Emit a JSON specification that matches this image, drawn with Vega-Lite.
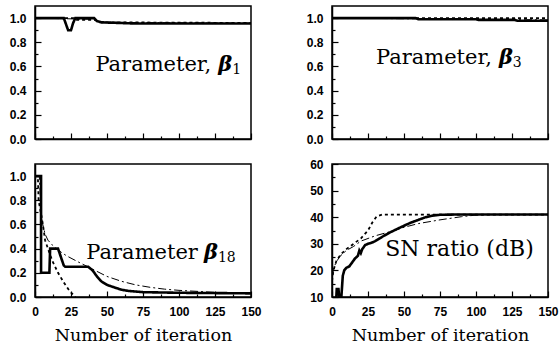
{
  "$schema": "https://vega.github.io/schema/vega-lite/v6.json",
  "padding": {"left": 8, "top": 5, "right": 5, "bottom": 0},
  "background": "white",
  "columns": 2,
  "bounds": "flush",
  "spacing": {"row": 25, "column": 81},
  "config": {
    "view": {"stroke": "black", "strokeWidth": 1.5},
    "axis": {
      "domainColor": "black", "domainWidth": 1.5, "tickColor": "black", "tickWidth": 1.2,
      "labelFont": "Liberation Sans", "labelFontWeight": "bold", "labelFontSize": 12, "labelColor": "black",
      "grid": false, "labelPadding": 15, "labelOverlap": false, "labelFlush": false,
      "titleFont": "DejaVu Serif", "titleFontWeight": "normal", "titleFontSize": 17.5, "titleColor": "black", "titlePadding": 9
    },
    "text": {"font": "DejaVu Serif", "fontSize": 21, "color": "black"}
  },
  "concat": [
    {
      "width": 216, "height": 133,
      "resolve": {"axis": {"x": "independent", "y": "independent"}},
      "layer": [
        {
          "data": {"values": [
            {"s": "a", "x": 0, "y": 1.0}, {"s": "a", "x": 20, "y": 1.0}, {"s": "a", "x": 21.5, "y": 0.95}, {"s": "a", "x": 23, "y": 0.9}, {"s": "a", "x": 25, "y": 0.9}, {"s": "a", "x": 26.5, "y": 0.96}, {"s": "a", "x": 28, "y": 1.0}, {"s": "a", "x": 41, "y": 1.0}, {"s": "a", "x": 43, "y": 0.975}, {"s": "a", "x": 46, "y": 0.965}, {"s": "a", "x": 70, "y": 0.955}, {"s": "a", "x": 150, "y": 0.955},
            {"s": "b", "x": 0, "y": 1.0}, {"s": "b", "x": 27, "y": 1.0}, {"s": "b", "x": 28, "y": 0.985}, {"s": "b", "x": 42, "y": 0.985}, {"s": "b", "x": 45, "y": 0.965}, {"s": "b", "x": 150, "y": 0.96},
            {"s": "c", "x": 0, "y": 1.0}, {"s": "c", "x": 40, "y": 0.99}, {"s": "c", "x": 46, "y": 0.965}, {"s": "c", "x": 150, "y": 0.958}
          ]},
          "mark": {"type": "line", "color": "black", "clip": true},
          "encoding": {
            "x": {"field": "x", "type": "quantitative", "scale": {"domain": [0, 150], "nice": false, "zero": false},
              "axis": {"orient": "bottom", "values": [0, 25, 50, 75, 100, 125, 150], "labels": false, "title": null, "tickSize": -6}},
            "y": {"field": "y", "type": "quantitative", "scale": {"domain": [0, 1.1], "nice": false},
              "axis": {"orient": "left", "values": [0, 0.2, 0.4, 0.6, 0.8, 1.0], "format": ".1f", "title": null, "tickSize": -6}},
            "strokeDash": {"field": "s", "type": "nominal", "scale": {"domain": ["a", "b", "c"], "range": [[1, 0], [3, 3], [8, 3, 2, 3]]}, "legend": null},
            "strokeWidth": {"field": "s", "type": "nominal", "scale": {"domain": ["a", "b", "c"], "range": [2.6, 1, 1]}, "legend": null},
            "order": {"value": null}
          }
        },
        {"data": {"values": [{}]}, "mark": {"type": "text", "text": "Parameter,", "align": "right", "baseline": "alphabetic", "dx": -21},
          "encoding": {
            "x": {"datum": 137, "axis": {"orient": "bottom", "values": [12.5, 37.5, 62.5, 87.5, 112.5, 137.5], "labels": false, "title": null, "tickSize": -3, "domain": false}},
            "y": {"datum": 0.56, "axis": {"orient": "left", "values": [0.1, 0.3, 0.5, 0.7, 0.9], "labels": false, "title": null, "tickSize": -3, "domain": false}}}},
        {"data": {"values": [{}]}, "mark": {"type": "text", "text": "β", "align": "right", "baseline": "alphabetic", "fontStyle": "italic", "fontWeight": "bold"}, "encoding": {"x": {"datum": 137, "axis": null}, "y": {"datum": 0.56, "axis": null}}},
        {"data": {"values": [{}]}, "mark": {"type": "text", "text": "1", "align": "left", "baseline": "alphabetic", "fontSize": 14, "dy": 3}, "encoding": {"x": {"datum": 137, "axis": null}, "y": {"datum": 0.56, "axis": null}}}
      ]
    },
    {
      "width": 216, "height": 133,
      "resolve": {"axis": {"x": "independent", "y": "independent"}},
      "layer": [
        {
          "data": {"values": [
            {"s": "a", "x": 0, "y": 1.0}, {"s": "a", "x": 58, "y": 1.0}, {"s": "a", "x": 60, "y": 0.99}, {"s": "a", "x": 100, "y": 0.99}, {"s": "a", "x": 102, "y": 0.985}, {"s": "a", "x": 127, "y": 0.985}, {"s": "a", "x": 129, "y": 0.978}, {"s": "a", "x": 150, "y": 0.978},
            {"s": "b", "x": 0, "y": 1.0}, {"s": "b", "x": 150, "y": 1.0},
            {"s": "c", "x": 0, "y": 1.0}, {"s": "c", "x": 150, "y": 0.985}
          ]},
          "mark": {"type": "line", "color": "black", "clip": true},
          "encoding": {
            "x": {"field": "x", "type": "quantitative", "scale": {"domain": [0, 150], "nice": false, "zero": false},
              "axis": {"orient": "bottom", "values": [0, 25, 50, 75, 100, 125, 150], "labels": false, "title": null, "tickSize": -6}},
            "y": {"field": "y", "type": "quantitative", "scale": {"domain": [0, 1.1], "nice": false},
              "axis": {"orient": "left", "values": [0, 0.2, 0.4, 0.6, 0.8, 1.0], "format": ".1f", "title": null, "tickSize": -6}},
            "strokeDash": {"field": "s", "type": "nominal", "scale": {"domain": ["a", "b", "c"], "range": [[1, 0], [3, 3], [8, 3, 2, 3]]}, "legend": null},
            "strokeWidth": {"field": "s", "type": "nominal", "scale": {"domain": ["a", "b", "c"], "range": [2.6, 1, 1]}, "legend": null},
            "order": {"value": null}
          }
        },
        {"data": {"values": [{}]}, "mark": {"type": "text", "text": "Parameter,", "align": "right", "baseline": "alphabetic", "dx": -21},
          "encoding": {
            "x": {"datum": 125.6, "axis": {"orient": "bottom", "values": [12.5, 37.5, 62.5, 87.5, 112.5, 137.5], "labels": false, "title": null, "tickSize": -3, "domain": false}},
            "y": {"datum": 0.62, "axis": {"orient": "left", "values": [0.1, 0.3, 0.5, 0.7, 0.9], "labels": false, "title": null, "tickSize": -3, "domain": false}}}},
        {"data": {"values": [{}]}, "mark": {"type": "text", "text": "β", "align": "right", "baseline": "alphabetic", "fontStyle": "italic", "fontWeight": "bold"}, "encoding": {"x": {"datum": 125.6, "axis": null}, "y": {"datum": 0.62, "axis": null}}},
        {"data": {"values": [{}]}, "mark": {"type": "text", "text": "3", "align": "left", "baseline": "alphabetic", "fontSize": 14, "dy": 3}, "encoding": {"x": {"datum": 125.6, "axis": null}, "y": {"datum": 0.62, "axis": null}}}
      ]
    },
    {
      "width": 216, "height": 133,
      "resolve": {"axis": {"x": "independent", "y": "independent"}},
      "layer": [
        {
          "data": {"values": [
            {"s": "a", "x": 0, "y": 1.0}, {"s": "a", "x": 4.2, "y": 1.0}, {"s": "a", "x": 4.2, "y": 0.2}, {"s": "a", "x": 10, "y": 0.2}, {"s": "a", "x": 10.5, "y": 0.4}, {"s": "a", "x": 16, "y": 0.4}, {"s": "a", "x": 18, "y": 0.33}, {"s": "a", "x": 20, "y": 0.26}, {"s": "a", "x": 21, "y": 0.25}, {"s": "a", "x": 37, "y": 0.25}, {"s": "a", "x": 40, "y": 0.22}, {"s": "a", "x": 43, "y": 0.17}, {"s": "a", "x": 46, "y": 0.13}, {"s": "a", "x": 50, "y": 0.1}, {"s": "a", "x": 55, "y": 0.08}, {"s": "a", "x": 60, "y": 0.06}, {"s": "a", "x": 65, "y": 0.05}, {"s": "a", "x": 75, "y": 0.04}, {"s": "a", "x": 100, "y": 0.035}, {"s": "a", "x": 150, "y": 0.03},
            {"s": "b", "x": 0, "y": 1.0}, {"s": "b", "x": 2, "y": 1.0}, {"s": "b", "x": 2.5, "y": 0.8}, {"s": "b", "x": 4, "y": 0.7}, {"s": "b", "x": 5.5, "y": 0.6}, {"s": "b", "x": 7, "y": 0.47}, {"s": "b", "x": 9, "y": 0.4}, {"s": "b", "x": 12, "y": 0.3}, {"s": "b", "x": 16, "y": 0.2}, {"s": "b", "x": 20, "y": 0.12}, {"s": "b", "x": 24, "y": 0.05}, {"s": "b", "x": 28, "y": 0.0},
            {"s": "c", "x": 0, "y": 1.0}, {"s": "c", "x": 3, "y": 1.0}, {"s": "c", "x": 4, "y": 0.75}, {"s": "c", "x": 5, "y": 0.62}, {"s": "c", "x": 7, "y": 0.52}, {"s": "c", "x": 9, "y": 0.47}, {"s": "c", "x": 12, "y": 0.43}, {"s": "c", "x": 17, "y": 0.38}, {"s": "c", "x": 22, "y": 0.34}, {"s": "c", "x": 30, "y": 0.29}, {"s": "c", "x": 40, "y": 0.23}, {"s": "c", "x": 50, "y": 0.17}, {"s": "c", "x": 60, "y": 0.13}, {"s": "c", "x": 70, "y": 0.1}, {"s": "c", "x": 80, "y": 0.08}, {"s": "c", "x": 90, "y": 0.065}, {"s": "c", "x": 100, "y": 0.055}, {"s": "c", "x": 115, "y": 0.045}, {"s": "c", "x": 130, "y": 0.035}, {"s": "c", "x": 150, "y": 0.03}
          ]},
          "mark": {"type": "line", "color": "black", "clip": true},
          "encoding": {
            "x": {"field": "x", "type": "quantitative", "scale": {"domain": [0, 150], "nice": false, "zero": false},
              "axis": {"orient": "bottom", "values": [0, 25, 50, 75, 100, 125, 150], "format": "d", "title": "Number of iteration", "tickSize": -6}},
            "y": {"field": "y", "type": "quantitative", "scale": {"domain": [0, 1.1], "nice": false},
              "axis": {"orient": "left", "values": [0, 0.2, 0.4, 0.6, 0.8, 1.0], "format": ".1f", "title": null, "tickSize": -6}},
            "strokeDash": {"field": "s", "type": "nominal", "scale": {"domain": ["a", "b", "c"], "range": [[1, 0], [3, 3], [8, 3, 2, 3]]}, "legend": null},
            "strokeWidth": {"field": "s", "type": "nominal", "scale": {"domain": ["a", "b", "c"], "range": [2.6, 1, 1]}, "legend": null},
            "order": {"value": null}
          }
        },
        {"data": {"values": [{}]}, "mark": {"type": "text", "text": "Parameter", "align": "right", "baseline": "alphabetic", "dx": -20},
          "encoding": {
            "x": {"datum": 127, "axis": {"orient": "bottom", "values": [12.5, 37.5, 62.5, 87.5, 112.5, 137.5], "labels": false, "title": null, "tickSize": -3, "domain": false}},
            "y": {"datum": 0.317, "axis": {"orient": "left", "values": [0.1, 0.3, 0.5, 0.7, 0.9], "labels": false, "title": null, "tickSize": -3, "domain": false}}}},
        {"data": {"values": [{}]}, "mark": {"type": "text", "text": "β", "align": "right", "baseline": "alphabetic", "fontStyle": "italic", "fontWeight": "bold"}, "encoding": {"x": {"datum": 127, "axis": null}, "y": {"datum": 0.317, "axis": null}}},
        {"data": {"values": [{}]}, "mark": {"type": "text", "text": "18", "align": "left", "baseline": "alphabetic", "fontSize": 14, "dy": 3}, "encoding": {"x": {"datum": 127, "axis": null}, "y": {"datum": 0.317, "axis": null}}}
      ]
    },
    {
      "width": 216, "height": 133,
      "resolve": {"axis": {"x": "independent", "y": "independent"}},
      "layer": [
        {
          "data": {"values": [
            {"s": "a", "x": 3, "y": 10}, {"s": "a", "x": 3.3, "y": 13}, {"s": "a", "x": 4.5, "y": 13}, {"s": "a", "x": 5, "y": 10}, {"s": "a", "x": 6.5, "y": 10}, {"s": "a", "x": 7, "y": 14}, {"s": "a", "x": 7.5, "y": 18}, {"s": "a", "x": 8.5, "y": 20}, {"s": "a", "x": 10, "y": 21}, {"s": "a", "x": 12, "y": 21.5}, {"s": "a", "x": 14, "y": 23}, {"s": "a", "x": 16, "y": 24.5}, {"s": "a", "x": 18, "y": 25.5}, {"s": "a", "x": 19, "y": 27.5}, {"s": "a", "x": 20, "y": 26.5}, {"s": "a", "x": 21, "y": 28}, {"s": "a", "x": 23, "y": 29.5}, {"s": "a", "x": 25, "y": 30}, {"s": "a", "x": 28, "y": 30.5}, {"s": "a", "x": 30, "y": 31}, {"s": "a", "x": 33, "y": 32}, {"s": "a", "x": 36, "y": 33}, {"s": "a", "x": 40, "y": 34.2}, {"s": "a", "x": 45, "y": 35.5}, {"s": "a", "x": 50, "y": 36.8}, {"s": "a", "x": 55, "y": 38}, {"s": "a", "x": 60, "y": 39}, {"s": "a", "x": 65, "y": 40}, {"s": "a", "x": 70, "y": 40.6}, {"s": "a", "x": 75, "y": 40.9}, {"s": "a", "x": 85, "y": 41}, {"s": "a", "x": 150, "y": 41},
            {"s": "b", "x": 0, "y": 16}, {"s": "b", "x": 1, "y": 20}, {"s": "b", "x": 3, "y": 23.5}, {"s": "b", "x": 6, "y": 26}, {"s": "b", "x": 10, "y": 28}, {"s": "b", "x": 15, "y": 30}, {"s": "b", "x": 20, "y": 32}, {"s": "b", "x": 25, "y": 35}, {"s": "b", "x": 28, "y": 38}, {"s": "b", "x": 31, "y": 40.3}, {"s": "b", "x": 35, "y": 41}, {"s": "b", "x": 150, "y": 41},
            {"s": "c", "x": 0, "y": 18}, {"s": "c", "x": 2, "y": 22}, {"s": "c", "x": 5, "y": 25}, {"s": "c", "x": 10, "y": 27.5}, {"s": "c", "x": 15, "y": 29}, {"s": "c", "x": 20, "y": 31}, {"s": "c", "x": 30, "y": 33}, {"s": "c", "x": 40, "y": 34.5}, {"s": "c", "x": 50, "y": 36.2}, {"s": "c", "x": 60, "y": 37.6}, {"s": "c", "x": 75, "y": 39}, {"s": "c", "x": 90, "y": 40.2}, {"s": "c", "x": 100, "y": 40.8}, {"s": "c", "x": 110, "y": 41}, {"s": "c", "x": 150, "y": 41}
          ]},
          "mark": {"type": "line", "color": "black", "clip": true},
          "encoding": {
            "x": {"field": "x", "type": "quantitative", "scale": {"domain": [0, 150], "nice": false, "zero": false},
              "axis": {"orient": "bottom", "values": [0, 25, 50, 75, 100, 125, 150], "format": "d", "title": "Number of iteration", "tickSize": -6}},
            "y": {"field": "y", "type": "quantitative", "scale": {"domain": [10, 60], "nice": false, "zero": false},
              "axis": {"orient": "left", "values": [10, 20, 30, 40, 50, 60], "format": "d", "title": null, "tickSize": -6}},
            "strokeDash": {"field": "s", "type": "nominal", "scale": {"domain": ["a", "b", "c"], "range": [[1, 0], [3, 3], [8, 3, 2, 3]]}, "legend": null},
            "strokeWidth": {"field": "s", "type": "nominal", "scale": {"domain": ["a", "b", "c"], "range": [2.6, 1, 1]}, "legend": null},
            "order": {"value": null}
          }
        },
        {"data": {"values": [{}]}, "mark": {"type": "text", "text": "SN ratio (dB)", "align": "left", "baseline": "alphabetic", "fontSize": 22},
          "encoding": {
            "x": {"datum": 37, "axis": {"orient": "bottom", "values": [12.5, 37.5, 62.5, 87.5, 112.5, 137.5], "labels": false, "title": null, "tickSize": -3, "domain": false}},
            "y": {"datum": 25.3, "axis": {"orient": "left", "values": [15, 25, 35, 45, 55], "labels": false, "title": null, "tickSize": -3, "domain": false}}}}
      ]
    }
  ]
}
